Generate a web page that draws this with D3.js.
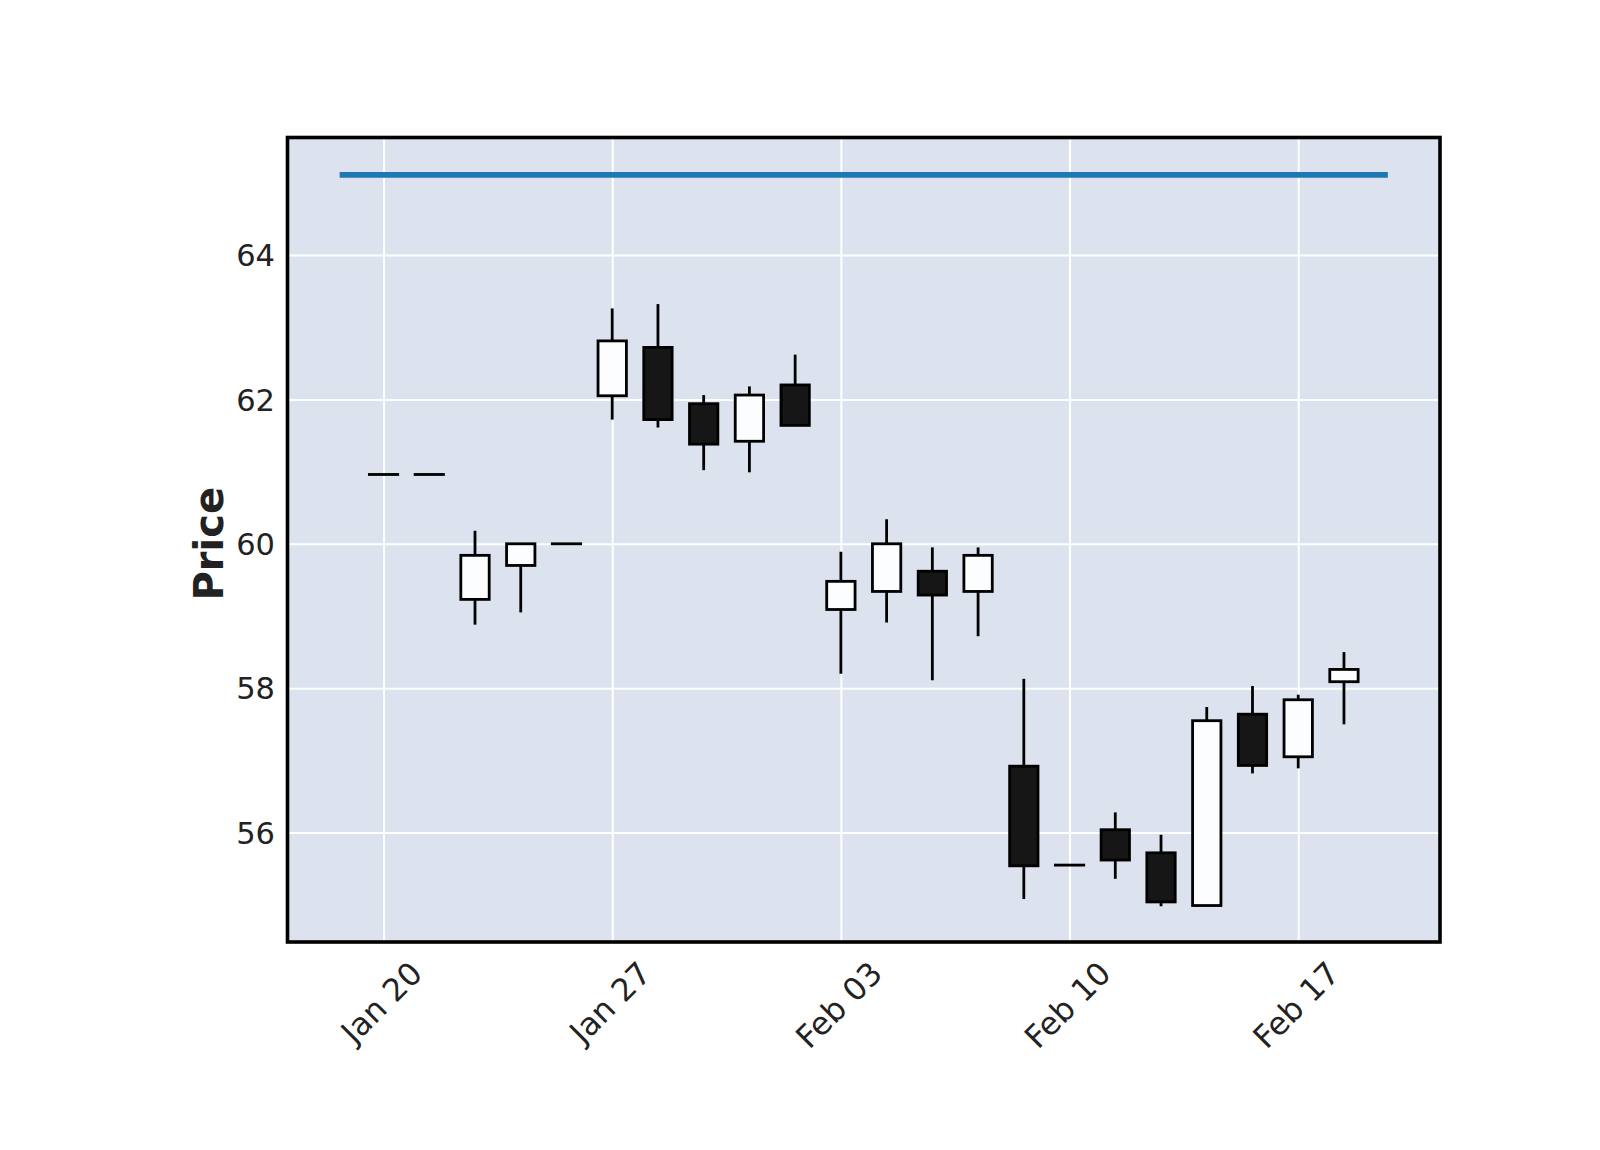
<!DOCTYPE html>
<html>
<head>
<meta charset="utf-8">
<script src="https://cdn.jsdelivr.net/npm/d3@7"></script>
<style>
  html, body { margin: 0; padding: 0; background: #ffffff; }
  svg { display: block; }
</style>
</head>
<body>
<script>
// ---------- data ----------
const dates = ["2020-01-20","2020-01-21","2020-01-22","2020-01-23","2020-01-24",
               "2020-01-27","2020-01-28","2020-01-29","2020-01-30","2020-01-31",
               "2020-02-03","2020-02-04","2020-02-05","2020-02-06","2020-02-07",
               "2020-02-10","2020-02-11","2020-02-12","2020-02-13","2020-02-14",
               "2020-02-17","2020-02-18"];
const opens  = [60.96,60.96,59.23,59.70,60.00,62.05,62.72,61.94,61.42,62.20,59.09,59.34,59.62,59.34,56.92,55.55,56.04,55.72,54.99,57.64,57.05,58.09];
const highs  = [60.96,60.96,60.18,60.00,60.00,63.26,63.32,62.06,62.18,62.62,59.89,60.34,59.95,59.95,58.13,55.55,56.28,55.97,57.74,58.03,57.91,58.50];
const lows   = [60.96,60.96,58.88,59.05,60.00,61.72,61.61,61.02,60.99,61.64,58.20,58.91,58.11,58.72,55.08,55.55,55.36,54.98,54.99,56.82,56.89,57.50];
const closes = [60.96,60.96,59.84,60.00,60.00,62.81,61.72,61.38,62.06,61.64,59.48,60.00,59.29,59.84,55.54,55.55,55.62,55.04,57.55,56.93,57.84,58.26];

const xTickIndex  = [0, 5, 10, 15, 20];
const xTickLabels = ["Jan 20", "Jan 27", "Feb 03", "Feb 10", "Feb 17"];
const yTicks      = [56, 58, 60, 62, 64];

// flat reference line (value and index span)
const refLineValue = 65.11;
const refLineSpan  = [-0.96, 21.96];

// ---------- layout ----------
const W = 1600, H = 1150;
const plot = { left: 287.5, right: 1440, top: 137.5, bottom: 942 };

const svg = d3.select("body").append("svg")
  .attr("width", W).attr("height", H)
  .attr("font-family", "'DejaVu Sans', sans-serif");

const x = d3.scaleLinear().domain([-2.1, 23.1]).range([plot.left, plot.right]);
const y = d3.scaleLinear().domain([54.485, 65.627]).range([plot.bottom, plot.top]);

// background
svg.append("rect")
  .attr("x", plot.left).attr("y", plot.top)
  .attr("width", plot.right - plot.left).attr("height", plot.bottom - plot.top)
  .attr("fill", "#DCE3EF");

// grid via axes
const gx = svg.append("g")
  .attr("transform", `translate(0,${plot.bottom})`)
  .call(d3.axisBottom(x).tickValues(xTickIndex)
        .tickSize(-(plot.bottom - plot.top)).tickFormat(""));
gx.select(".domain").remove();
gx.selectAll(".tick line").attr("stroke", "#ffffff").attr("stroke-width", 2);

const gy = svg.append("g")
  .attr("transform", `translate(${plot.left},0)`)
  .call(d3.axisLeft(y).tickValues(yTicks)
        .tickSize(-(plot.right - plot.left)).tickFormat(""));
gy.select(".domain").remove();
gy.selectAll(".tick line").attr("stroke", "#ffffff").attr("stroke-width", 2);

// reference line
svg.append("line")
  .attr("x1", x(refLineSpan[0])).attr("x2", x(refLineSpan[1]))
  .attr("y1", y(refLineValue)).attr("y2", y(refLineValue))
  .attr("stroke", "#1f77b4").attr("stroke-width", 5.6);

// candles
const candles = dates.map((d, i) => ({ i, o: opens[i], h: highs[i], l: lows[i], c: closes[i] }));
const bodyW = 0.62;   // in index units
const sw = 2.8;

const cg = svg.append("g");
cg.selectAll("line.wick").data(candles).join("line")
  .attr("class", "wick")
  .attr("x1", d => x(d.i)).attr("x2", d => x(d.i))
  .attr("y1", d => y(d.h)).attr("y2", d => y(d.l))
  .attr("stroke", "#000000").attr("stroke-width", sw);

cg.selectAll("rect.body").data(candles).join("rect")
  .attr("class", "body")
  .attr("x", d => x(d.i - bodyW / 2))
  .attr("width", x(bodyW) - x(0))
  .attr("y", d => y(Math.max(d.o, d.c)))
  .attr("height", d => Math.max(Math.abs(y(d.o) - y(d.c)), 0.01))
  .attr("fill", d => d.c >= d.o ? "#fcfdfe" : "#161616")
  .attr("stroke", "#000000").attr("stroke-width", sw)
  .attr("stroke-linejoin", "miter");

// frame
svg.append("rect")
  .attr("x", plot.left).attr("y", plot.top)
  .attr("width", plot.right - plot.left).attr("height", plot.bottom - plot.top)
  .attr("fill", "none").attr("stroke", "#000000").attr("stroke-width", 3.6);

// y tick labels
const fs = 30.5;
svg.append("g").selectAll("text").data(yTicks).join("text")
  .attr("x", 275).attr("y", d => y(d) + 0.3645 * fs)
  .attr("text-anchor", "end")
  .attr("font-size", fs).attr("fill", "#222222")
  .text(d => d);

// x tick labels (rotated 45°, bbox centred on tick, top below axis)
const fsx = 31.5;
const xl = svg.append("g").selectAll("text").data(xTickIndex).join("text")
  .attr("text-anchor", "middle")
  .attr("dominant-baseline", "central")
  .attr("font-size", fsx).attr("fill", "#222222")
  .text((d, k) => xTickLabels[k]);
xl.each(function(d) {
  const L = this.getComputedTextLength();
  const half = (L + fsx * 0.95) * Math.SQRT1_2 / 2;
  d3.select(this).attr("transform", `translate(${x(d) - 2},${957 + half}) rotate(-45)`);
});

// y axis label
svg.append("text")
  .attr("transform", `translate(222.5,${(plot.top + plot.bottom) / 2 + 4}) rotate(-90)`)
  .attr("text-anchor", "middle")
  .attr("font-size", 40).attr("font-weight", "bold").attr("fill", "#222222")
  .text("Price");
</script>
</body>
</html>
